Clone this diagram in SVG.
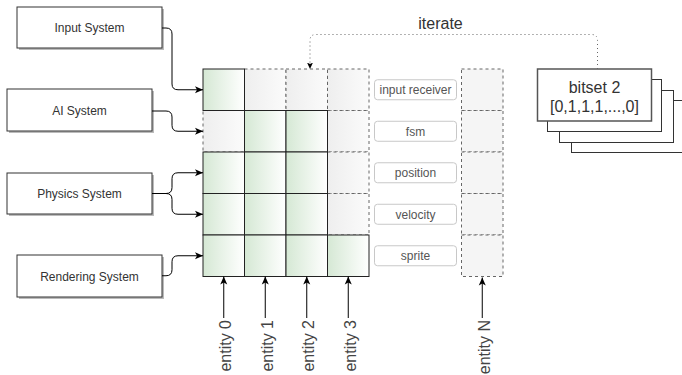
<svg xmlns="http://www.w3.org/2000/svg" width="682" height="375" viewBox="0 0 682 375">
<defs>
<linearGradient id="gGreen" x1="0" y1="0" x2="1" y2="0"><stop offset="0" stop-color="#d5e8d4"/><stop offset="1" stop-color="#ffffff"/></linearGradient>
<linearGradient id="gGrey" x1="0" y1="0" x2="1" y2="0"><stop offset="0" stop-color="#eeeeee"/><stop offset="1" stop-color="#fbfbfb"/></linearGradient>
<marker id="arr" markerUnits="userSpaceOnUse" markerWidth="10" markerHeight="10" refX="8" refY="4" orient="auto"><path d="M0,0.5 L8,4 L0,7.5 L2,4 z" fill="#000" stroke="none"/></marker>
<marker id="arrS" markerUnits="userSpaceOnUse" markerWidth="8" markerHeight="8" refX="6.5" refY="3.5" orient="auto"><path d="M0,0.5 L6.5,3.5 L0,6.5 L1.5,3.5 z" fill="#000" stroke="none"/></marker>
</defs>
<style>
.sys{fill:#fff;stroke:#333;stroke-width:1}
.shadow{fill:#bbb}
.t{font-family:"Liberation Sans",Arial,sans-serif;fill:#333}
.st{font-size:12px;text-anchor:middle}
.green{fill:url(#gGreen);stroke:#222;stroke-width:1}
.grey{fill:url(#gGrey);stroke:#666;stroke-width:1;stroke-dasharray:3 3}
.nc{fill:#f5f5f5;stroke:#666;stroke-width:1;stroke-dasharray:3 3}
.lbl{fill:#fff;stroke:#c8c8c8;stroke-width:1}
.lt{font-size:12px;text-anchor:middle;fill:#555}
.conn{fill:none;stroke:#000;stroke-width:1}
.dot{fill:none;stroke:#666;stroke-width:1;stroke-dasharray:1 3}
.bs{fill:#fff;stroke:#333;stroke-width:1}
.ent{font-size:16px;text-anchor:end;fill:#444}
</style>

<g id="input-system"><rect class="shadow" x="19" y="9" width="145" height="41"/><rect class="sys" x="17" y="7" width="145" height="41"/><text class="t st" x="89.5" y="32">Input System</text></g>
<g id="ai-system"><rect class="shadow" x="9" y="91" width="145" height="42"/><rect class="sys" x="7" y="89" width="145" height="42"/><text class="t st" x="79.5" y="114.5">AI System</text></g>
<g id="physics-system"><rect class="shadow" x="9" y="175" width="145" height="41"/><rect class="sys" x="7" y="173" width="145" height="41"/><text class="t st" x="79.5" y="198">Physics System</text></g>
<g id="rendering-system"><rect class="shadow" x="19" y="257" width="145" height="42"/><rect class="sys" x="17" y="255" width="145" height="42"/><text class="t st" x="89.5" y="280.5">Rendering System</text></g>

<g id="grid-grey">
<rect class="grey" x="244.5" y="69" width="41.5" height="41.5"/>
<rect class="grey" x="286" y="69" width="41.5" height="41.5"/>
<rect class="grey" x="327.5" y="69" width="41.5" height="41.5"/>
<rect class="grey" x="203" y="110.5" width="41.5" height="41.5"/>
<rect class="grey" x="327.5" y="110.5" width="41.5" height="41.5"/>
<rect class="grey" x="327.5" y="152" width="41.5" height="41.5"/>
<rect class="grey" x="327.5" y="193.5" width="41.5" height="41.5"/>
</g>
<g id="grid-green">
<rect class="green" x="203" y="69" width="41.5" height="41.5"/>
<rect class="green" x="244.5" y="110.5" width="41.5" height="41.5"/>
<rect class="green" x="286" y="110.5" width="41.5" height="41.5"/>
<rect class="green" x="203" y="152" width="41.5" height="41.5"/>
<rect class="green" x="244.5" y="152" width="41.5" height="41.5"/>
<rect class="green" x="286" y="152" width="41.5" height="41.5"/>
<rect class="green" x="203" y="193.5" width="41.5" height="41.5"/>
<rect class="green" x="244.5" y="193.5" width="41.5" height="41.5"/>
<rect class="green" x="286" y="193.5" width="41.5" height="41.5"/>
<rect class="green" x="203" y="235" width="41.5" height="41.5"/>
<rect class="green" x="244.5" y="235" width="41.5" height="41.5"/>
<rect class="green" x="286" y="235" width="41.5" height="41.5"/>
<rect class="green" x="327.5" y="235" width="41.5" height="41.5"/>
</g>

<g id="labels">
<g id="lbl-input"><rect class="lbl" x="374.5" y="79.75" width="82" height="20" rx="3"/><text class="t lt" x="415.5" y="94">input receiver</text></g>
<g id="lbl-fsm"><rect class="lbl" x="374.5" y="121.25" width="82" height="20" rx="3"/><text class="t lt" x="415.5" y="135.5">fsm</text></g>
<g id="lbl-position"><rect class="lbl" x="374.5" y="162.75" width="82" height="20" rx="3"/><text class="t lt" x="415.5" y="177">position</text></g>
<g id="lbl-velocity"><rect class="lbl" x="374.5" y="204.25" width="82" height="20" rx="3"/><text class="t lt" x="415.5" y="218.5">velocity</text></g>
<g id="lbl-sprite"><rect class="lbl" x="374.5" y="245.75" width="82" height="20" rx="3"/><text class="t lt" x="415.5" y="260">sprite</text></g>
</g>

<g id="entity-n-column">
<rect class="nc" x="461.5" y="69" width="41.5" height="41.5"/>
<rect class="nc" x="461.5" y="110.5" width="41.5" height="41.5"/>
<rect class="nc" x="461.5" y="152" width="41.5" height="41.5"/>
<rect class="nc" x="461.5" y="193.5" width="41.5" height="41.5"/>
<rect class="nc" x="461.5" y="235" width="41.5" height="41.5"/>
</g>

<g id="bitsets">
<rect class="bs" x="571.5" y="100.5" width="114" height="52"/>
<rect class="bs" x="559.5" y="90.5" width="114" height="52"/>
<rect class="bs" x="547.5" y="79.5" width="114" height="52"/>
<g id="bitset-2"><rect class="bs" x="537.5" y="69" width="114" height="52" style="stroke:#555;stroke-width:1.5"/>
<text class="t" x="594.5" y="92.5" font-size="16" text-anchor="middle">bitset 2</text>
<text class="t" x="594.5" y="112" font-size="16" text-anchor="middle">[0,1,1,1,...,0]</text></g>
</g>

<g id="connectors">
<path class="conn" d="M162,28 L166,28 Q172,28 172,34 L172,84 Q172,89.75 178,89.75 L203,89.75" marker-end="url(#arr)"/>
<path class="conn" d="M152,111 L166,111 Q172,111 172,117 L172,125.25 Q172,131.25 178,131.25 L203,131.25" marker-end="url(#arr)"/>
<path class="conn" d="M152,193.5 L166,193.5 Q172,193.5 172,187.5 L172,178.75 Q172,172.75 178,172.75 L203,172.75" marker-end="url(#arr)"/>
<path class="conn" d="M166,193.5 Q172,193.5 172,199.5 L172,208.25 Q172,214.25 178,214.25 L203,214.25" marker-end="url(#arr)"/>
<path class="conn" d="M162,275.75 L166,275.75 Q172,275.75 172,269.75 L172,261.75 Q172,255.75 178,255.75 L203,255.75" marker-end="url(#arr)"/>
<path class="conn" d="M223.75,318 L223.75,276.5" marker-end="url(#arr)"/>
<path class="conn" d="M265.25,318 L265.25,276.5" marker-end="url(#arr)"/>
<path class="conn" d="M306.75,318 L306.75,276.5" marker-end="url(#arr)"/>
<path class="conn" d="M348.25,318 L348.25,276.5" marker-end="url(#arr)"/>
<path class="conn" d="M482.25,318 L482.25,277.5" marker-end="url(#arr)"/>
<path class="dot" d="M597.5,69 L597.5,40.5 Q597.5,34.5 591.5,34.5 L316,34.5 Q310,34.5 310,40.5 L310,69" marker-end="url(#arrS)"/>
<text class="t" x="440.5" y="29" font-size="16" text-anchor="middle">iterate</text>
</g>

<g id="entity-labels">
<text class="t ent" x="231" y="320" transform="rotate(-90 231 320)">entity 0</text>
<text class="t ent" x="272.5" y="320" transform="rotate(-90 272.5 320)">entity 1</text>
<text class="t ent" x="314" y="320" transform="rotate(-90 314 320)">entity 2</text>
<text class="t ent" x="355.5" y="320" transform="rotate(-90 355.5 320)">entity 3</text>
<text class="t ent" x="489.5" y="320" transform="rotate(-90 489.5 320)">entity N</text>
</g>
</svg>
